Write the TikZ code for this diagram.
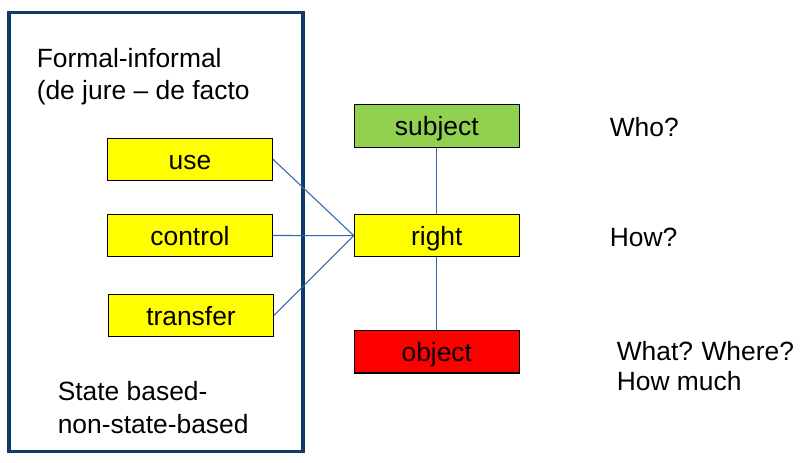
\documentclass[tikz,border=0pt]{standalone}
\usepackage{fontspec}
\setmainfont{Liberation Sans}
\definecolor{navy}{RGB}{16,58,104}
\definecolor{conncol}{RGB}{52,104,164}
\definecolor{ybox}{RGB}{255,255,0}
\definecolor{gbox}{RGB}{146,208,80}
\definecolor{rbox}{RGB}{255,0,0}
\tikzset{
  every node/.style={font=\fontsize{19.8}{23}\selectfont},
  outerframe/.style={draw=navy,line width=2.4pt},
  termbox/.style={draw=black,line width=0.8pt,minimum width=123.75pt,minimum height=31.9pt,inner sep=0pt,text height=18pt,text depth=2.8pt},
  conn/.style={draw=conncol,line width=0.8pt},
  lbl/.style={anchor=base west,inner sep=0pt}
}
\begin{document}
\begin{tikzpicture}[x=0.75pt,y=-0.75pt]
\useasboundingbox (0,0) rectangle (807,462);
\draw[outerframe] (9,12.5) rectangle (303,451.5);
\node[termbox,fill=ybox] (use) at (190,159.3) {use};
\node[termbox,fill=ybox] (control) at (190,235.5) {control};
\node[termbox,fill=ybox] (transfer) at (191,315.3) {transfer};
\node[termbox,fill=gbox] (subject) at (436.8,125.8) {subject};
\node[termbox,fill=ybox] (right) at (436.8,235.6) {right};
\node[termbox,fill=rbox] (object) at (436.8,351.7) {object};
\draw[conn] (use.east) -- (right.west);
\draw[conn] (control.east) -- (right.west);
\draw[conn] (transfer.east) -- (right.west);
\draw[conn] (subject.south) -- (right.north);
\draw[conn] (right.south) -- (object.north);
\node[lbl] (formal) at (36.5,67) {Formal-informal};
\node[lbl] (jure) at (36.5,99) {(de jure – de facto};
\node[lbl] (state) at (57.5,400) {State based-};
\node[lbl] (nonstate) at (57.5,433) {non-state-based};
\node[lbl] (who) at (609.5,136) {Who?};
\node[lbl] (how) at (609.5,246) {How?};
\node[lbl] (what) at (616.5,360) {What?\hspace{-0.05em} Where?};
\node[lbl] (howmuch) at (616.5,390) {How much};
\end{tikzpicture}
\end{document}
